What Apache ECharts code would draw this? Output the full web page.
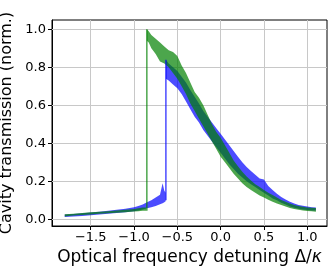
<!DOCTYPE html>
<html>
<head>
<meta charset="utf-8">
<script src="https://cdn.jsdelivr.net/npm/echarts@6/dist/echarts.min.js"></script>
<style>html,body{margin:0;padding:0;background:#fff}#c{width:333px;height:270px}</style>
</head>
<body>
<div id="c"></div>
<script>
// ---- data ----
const xTicks = [-1.5, -1.0, -0.5, 0.0, 0.5, 1.0];
const yTicks = [0.0, 0.2, 0.4, 0.6, 0.8, 1.0];

// blue trace: envelope (lower / upper) of the noisy record
const blueX  = [-1.8,-1.7,-1.6,-1.5,-1.4,-1.3,-1.2,-1.1,-1.0,-0.95,-0.9,-0.85,-0.8,-0.75,-0.7,-0.67,-0.65,-0.635,
                -0.632,-0.6,-0.55,-0.5,-0.45,-0.4,-0.35,-0.3,-0.25,-0.2,-0.15,-0.1,-0.05,0.0,0.05,0.1,0.15,0.2,0.25,0.3,0.35,0.4,0.45,0.5,0.55,0.6,0.65,0.7,0.75,0.8,0.85,0.9,0.95,1.0,1.05,1.1];
const blueLo = [0.012,0.015,0.018,0.022,0.026,0.030,0.034,0.038,0.043,0.047,0.052,0.058,0.064,0.070,0.080,0.085,0.090,0.095,
                0.74,0.73,0.71,0.69,0.66,0.62,0.58,0.54,0.51,0.47,0.44,0.41,0.38,0.35,0.32,0.29,0.265,0.24,0.22,0.20,0.185,0.17,0.155,0.14,0.125,0.11,0.10,0.088,0.078,0.068,0.061,0.056,0.052,0.049,0.047,0.046];
const blueHi = [0.025,0.028,0.032,0.036,0.040,0.045,0.050,0.056,0.064,0.070,0.078,0.090,0.100,0.115,0.130,0.190,0.150,0.140,
                0.84,0.82,0.80,0.78,0.75,0.72,0.68,0.645,0.61,0.57,0.54,0.51,0.48,0.45,0.42,0.39,0.36,0.33,0.30,0.275,0.255,0.235,0.215,0.21,0.175,0.155,0.135,0.118,0.104,0.092,0.083,0.076,0.071,0.067,0.064,0.062];
const blueJump = [-0.632, 0.10, 0.84];

// green trace
const greenX  = [-1.8,-1.7,-1.6,-1.5,-1.4,-1.3,-1.2,-1.1,-1.0,-0.95,-0.9,-0.86,
                 -0.852,-0.83,-0.8,-0.75,-0.7,-0.65,-0.6,-0.55,-0.5,-0.45,-0.4,-0.35,-0.3,-0.25,-0.2,-0.15,-0.1,-0.05,0.0,0.05,0.1,0.15,0.2,0.25,0.3,0.35,0.4,0.45,0.5,0.55,0.6,0.65,0.7,0.75,0.8,0.85,0.9,0.95,1.0,1.05,1.1];
const greenLo = [0.015,0.020,0.023,0.026,0.029,0.032,0.035,0.038,0.041,0.043,0.045,0.045,
                 0.94,0.93,0.90,0.87,0.83,0.82,0.80,0.77,0.74,0.70,0.66,0.61,0.57,0.53,0.49,0.45,0.41,0.37,0.33,0.30,0.27,0.24,0.215,0.19,0.17,0.155,0.14,0.125,0.115,0.103,0.093,0.083,0.075,0.067,0.060,0.055,0.050,0.047,0.044,0.042,0.040];
const greenHi = [0.027,0.030,0.033,0.037,0.040,0.043,0.047,0.051,0.055,0.058,0.062,0.063,
                 1.0,0.99,0.97,0.95,0.93,0.91,0.89,0.88,0.86,0.81,0.77,0.72,0.67,0.64,0.60,0.55,0.50,0.46,0.43,0.39,0.35,0.31,0.28,0.25,0.225,0.205,0.185,0.17,0.155,0.14,0.128,0.115,0.102,0.092,0.083,0.076,0.070,0.066,0.063,0.061,0.060];
const greenJump = [-0.852, 0.045, 1.0];

// ---- chart ----
const FONT = 'DejaVu Sans';
const BLUE = 'rgba(0,0,255,0.7)';
const GREEN = 'rgba(0,128,0,0.7)';
const fmt = v => v.toFixed(1).replace('-', '\u2212');

function band(xs, lo, hi, color) {
  return {
    type: 'custom',
    data: xs.map((x, i) => [x, lo[i], hi[i]]),
    encode: { x: 0, y: [1, 2] },
    z: 3,
    silent: true,
    renderItem: function (params, api) {
      if (params.dataIndex !== 0) return null;
      const pts = [];
      for (let i = 0; i < xs.length; i++) pts.push(api.coord([xs[i], hi[i]]));
      for (let i = xs.length - 1; i >= 0; i--) pts.push(api.coord([xs[i], lo[i]]));
      return { type: 'polygon', shape: { points: pts }, style: { fill: color, stroke: null } };
    }
  };
}
function jump(j, color) {
  return {
    type: 'line', data: [[j[0], j[1]], [j[0], j[2]]], z: 3, silent: true,
    showSymbol: false, symbol: 'none',
    lineStyle: { color: color, width: 1.5 }
  };
}

const chart = echarts.init(document.getElementById('c'), null, { renderer: 'canvas' });
chart.setOption({
  animation: false,
  backgroundColor: '#fff',
  grid: { left: 52, right: 6, top: 20, bottom: 44, containLabel: false, outerBoundsMode: 'none',
          show: true, borderColor: '#000', borderWidth: 1, backgroundColor: 'transparent' },
  xAxis: {
    type: 'value', min: -1.947, max: 1.228,
    name: 'Optical frequency detuning Δ/{i|κ}', nameLocation: 'middle', nameGap: 19,
    nameTextStyle: { fontFamily: FONT, fontSize: 17, color: '#000', rich: { i: { fontFamily: FONT, fontStyle: 'italic', fontSize: 17, color: '#000' } } },
    axisLine: { show: true, onZero: false, lineStyle: { color: '#000', width: 1 } },
    axisTick: { show: true, inside: false, length: 4, lineStyle: { color: '#000', width: 1 }, customValues: xTicks },
    axisLabel: { customValues: xTicks, formatter: fmt, fontFamily: FONT, fontSize: 13, color: '#000', margin: 5 },
    splitLine: { show: false }
  },
  yAxis: {
    type: 'value', min: -0.035, max: 1.049,
    name: 'Cavity transmission (norm.)', nameLocation: 'middle', nameGap: 31,
    nameTextStyle: { fontFamily: FONT, fontSize: 16, color: '#000' },
    axisLine: { show: true, onZero: false, lineStyle: { color: '#000', width: 1 } },
    axisTick: { show: true, inside: false, length: 4, lineStyle: { color: '#000', width: 1 }, customValues: yTicks },
    axisLabel: { customValues: yTicks, formatter: fmt, fontFamily: FONT, fontSize: 13, color: '#000', margin: 6 },
    splitLine: { show: false }
  },
  series: [
    {
      type: 'line', data: [], silent: true, z: 1,
      markLine: {
        silent: true, z: 1, symbol: ['none', 'none'], label: { show: false },
        lineStyle: { color: '#c8c8c8', width: 1, type: 'solid' },
        emphasis: { disabled: true },
        data: xTicks.map(v => ({ xAxis: v })).concat(yTicks.map(v => ({ yAxis: v })))
      }
    },
    band(blueX, blueLo, blueHi, BLUE),
    jump(blueJump, BLUE),
    band(greenX, greenLo, greenHi, GREEN),
    jump(greenJump, GREEN)
  ]
});
</script>
</body>
</html>
